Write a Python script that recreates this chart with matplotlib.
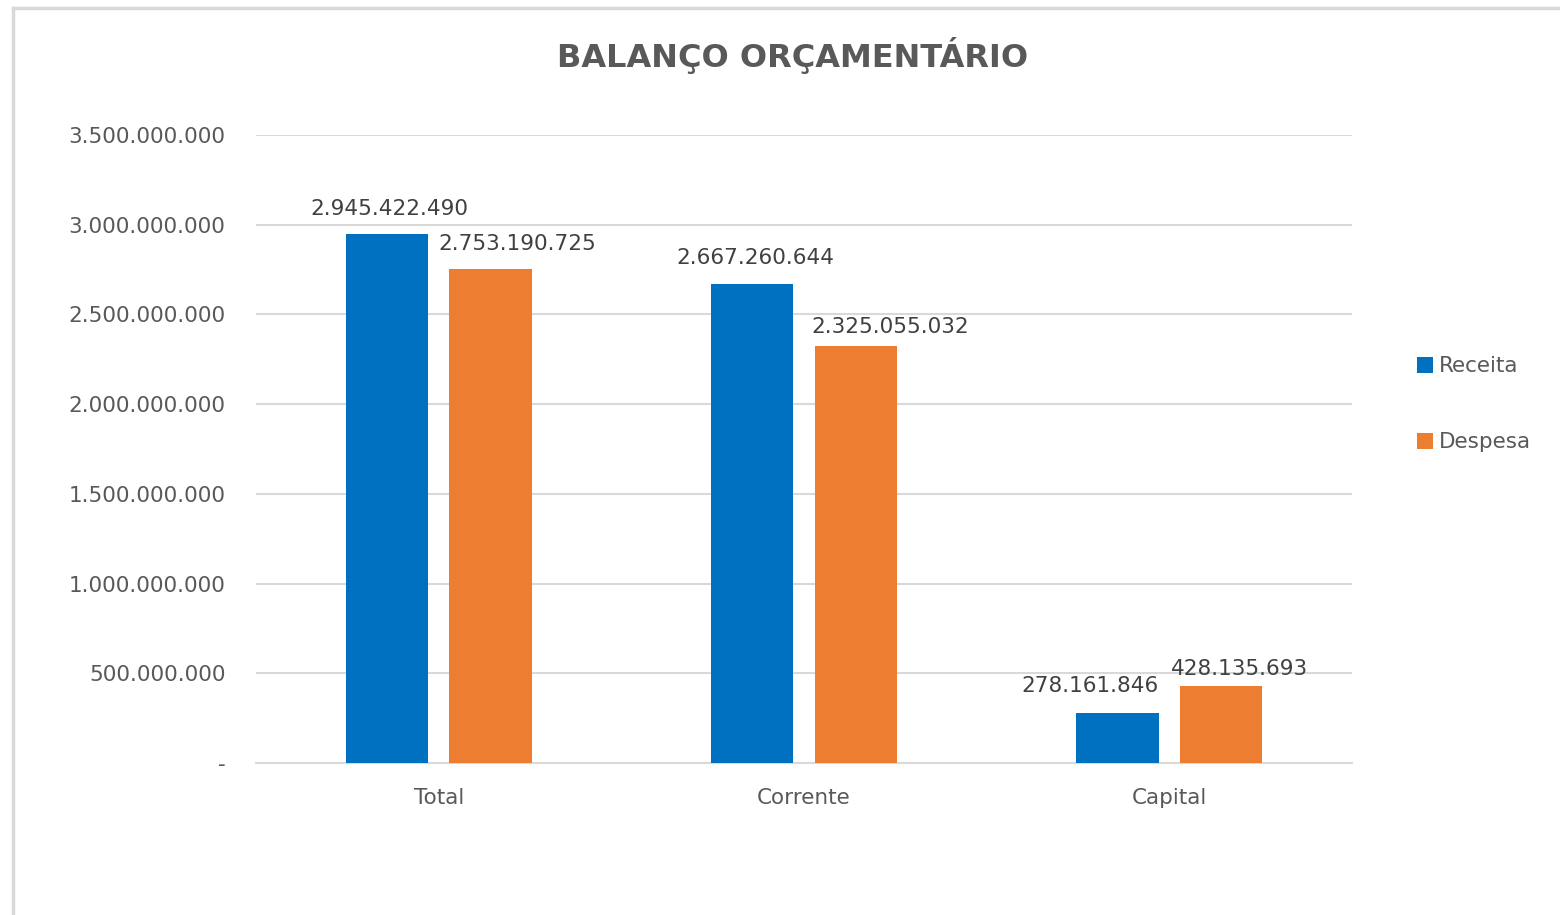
import matplotlib.pyplot as plt
from matplotlib.lines import Line2D
from matplotlib.ticker import FuncFormatter
import numpy as np

categorias = ['Total', 'Corrente', 'Capital']
receita = [2945422490, 2667260644, 278161846]
despesa = [2753190725, 2325055032, 428135693]
y_ticks = [0, 500000000, 1000000000, 1500000000, 2000000000,
           2500000000, 3000000000, 3500000000]

# deslocamento dos rotulos (pontos), como o Excel os deixou
desloc_receita = [(2, 11), (2, 12), (-20, 12.5)]
desloc_despesa = [(19, 11), (25, 6.5), (13, 5)]

AZUL = '#0070C0'
LARANJA = '#ED7D31'
CINZA = '#595959'
GRADE = '#D9D9D9'


def fmt(v, pos=None):
  if v == 0:
    return '-'
  return f'{v:,.0f}'.replace(',', '.')


fig = plt.figure(figsize=(15.6, 9.15), dpi=100)
ax = fig.add_axes([0.1641, 0.1661, 0.7026, 0.6864])

x = np.arange(len(categorias))
w = 0.225
b1 = ax.bar(x - 0.142, receita, w, color=AZUL, label='Receita', zorder=3)
b2 = ax.bar(x + 0.142, despesa, w, color=LARANJA, label='Despesa', zorder=3)

for barras, vals, desl in [(b1, receita, desloc_receita), (b2, despesa, desloc_despesa)]:
  for b, v, d in zip(barras, vals, desl):
    ax.annotate(fmt(v), (b.get_x() + b.get_width() / 2, v), xytext=d,
                textcoords='offset points', ha='center', va='bottom',
                fontsize=15.5, color='#404040')

ax.set_xlim(-0.5, 2.5)
ax.set_ylim(0, 3500000000)
ax.set_yticks(y_ticks)
ax.yaxis.set_major_formatter(FuncFormatter(fmt))
ax.set_xticks(x)
ax.set_xticklabels(categorias)
ax.tick_params(axis='both', length=0, labelsize=15.5, colors=CINZA)
ax.tick_params(axis='y', pad=22)
ax.tick_params(axis='x', pad=18)
ax.grid(axis='y', color=GRADE, lw=1.5, zorder=0)
for s in ['top', 'right', 'left']:
  ax.spines[s].set_visible(False)
ax.spines['bottom'].set_color(GRADE)
ax.spines['bottom'].set_linewidth(1.5)

fig.text(0.508, 0.939, 'BALANÇO ORÇAMENTÁRIO', ha='center', va='center',
         fontsize=23, fontweight='bold', color=CINZA)

fig.legend(handles=[b1, b2], loc='center left', bbox_to_anchor=(0.896, 0.558),
           frameon=False, fontsize=15.5, labelcolor=CINZA, handlelength=0.72,
           handleheight=0.72, handletextpad=0.3, labelspacing=2.6)

# moldura do grafico
yb = 1 - 8 / 915
xb = 13 / 1560
fig.add_artist(Line2D([xb, xb], [0, yb], color=GRADE, lw=2.5))
fig.add_artist(Line2D([xb, 1], [yb, yb], color=GRADE, lw=2.5))

plt.savefig('out.png')
plt.close()
